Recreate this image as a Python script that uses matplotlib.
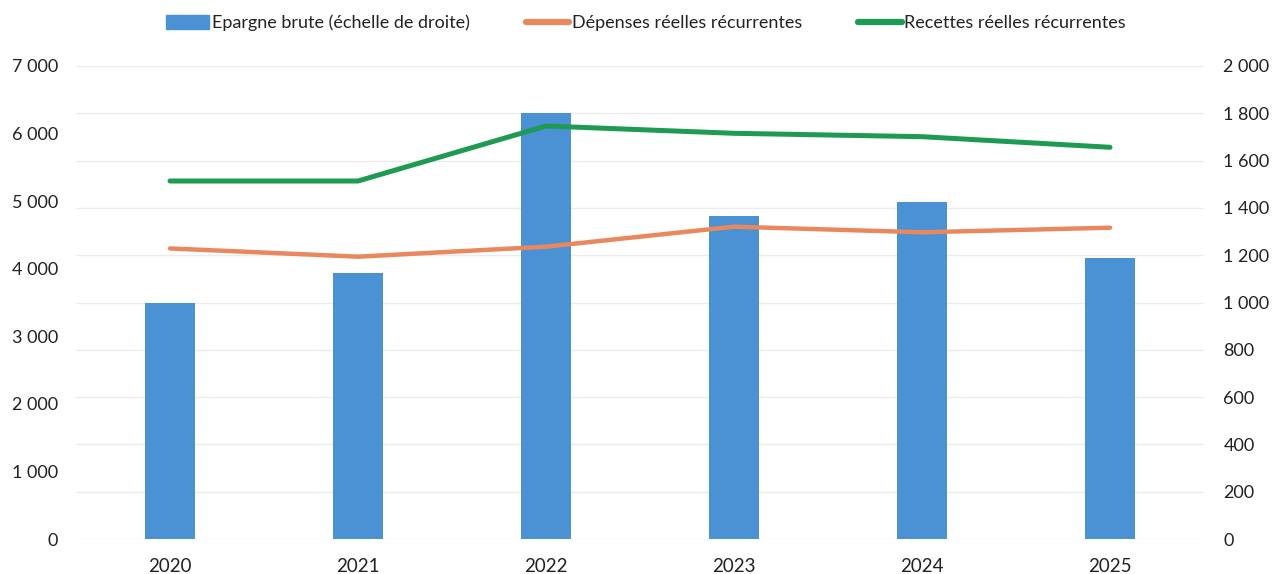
import numpy as np
import matplotlib
matplotlib.use('Agg')
import matplotlib.pyplot as plt
from matplotlib.patches import Patch
from matplotlib.lines import Line2D
from matplotlib.ticker import FuncFormatter

plt.rcParams['font.family'] = ['Lato', 'DejaVu Sans']

years = ["2020", "2021", "2022", "2023", "2024", "2025"]
epargne_brute = [998, 1124, 1803, 1366, 1424, 1189]
depenses = [4300, 4178, 4326, 4622, 4539, 4607]
recettes = [5298, 5298, 6112, 6004, 5954, 5797]

BLUE = "#4a92d4"
ORANGE = "#e8885c"
GREEN = "#1e9a52"
TXT = "#222222"


def fr_fmt(v, pos):
    return f"{int(v):,}".replace(",", " ")


fig = plt.figure(figsize=(12.75, 5.74), dpi=100)
ax = fig.add_axes([76 / 1275, 1 - 539 / 574, (1204 - 76) / 1275, (539 - 66) / 574])
x = np.arange(len(years))

# bars on right-hand scale
ax.bar(x, epargne_brute, width=0.265, color=BLUE, zorder=2)
ax.set_ylim(0, 2000)
ax.set_yticks(np.arange(0, 2001, 200))
ax.yaxis.set_major_formatter(FuncFormatter(fr_fmt))
ax.grid(axis='y', color="#ececec", linewidth=1, zorder=0)
ax.set_axisbelow(True)
ax.set_xlim(-0.5, len(years) - 0.5)
ax.set_xticks(x)
ax.set_xticklabels(years)
ax.tick_params(axis='x', length=0, pad=14, labelsize=13.5, labelcolor=TXT)
for s in ax.spines.values():
    s.set_visible(False)

# lines on left-hand scale
ax2 = ax.twinx()
ax2.plot(x, depenses, color=ORANGE, linewidth=3.2, solid_capstyle='round', zorder=3)
ax2.plot(x, recettes, color=GREEN, linewidth=3.6, solid_capstyle='round', zorder=3)
ax2.set_ylim(0, 7000)
ax2.set_yticks(np.arange(0, 7001, 1000))
ax2.yaxis.set_major_formatter(FuncFormatter(fr_fmt))
for s in ax2.spines.values():
    s.set_visible(False)

# twinx puts the parent's ticks on the left, so swap sides here
ax.yaxis.tick_right()
ax2.yaxis.tick_left()
ax.tick_params(axis='y', length=0, pad=14, labelsize=13, labelcolor=TXT)
ax2.tick_params(axis='y', length=0, pad=13, labelsize=13, labelcolor=TXT)

handles = [
    Patch(color=BLUE, label="Epargne brute (échelle de droite)"),
    Line2D([0], [0], color=ORANGE, linewidth=4.5, solid_capstyle='round', label="Dépenses réelles récurrentes"),
    Line2D([0], [0], color=GREEN, linewidth=4.5, solid_capstyle='round', label="Recettes réelles récurrentes"),
]
fig.legend(handles=handles, loc='center', bbox_to_anchor=(646 / 1275, 1 - 23 / 574), ncol=3,
           frameon=False, fontsize=13, handlelength=2.4, handleheight=0.8,
           handletextpad=0.15, columnspacing=3.1, labelcolor=TXT)

fig.savefig("out.png", dpi=100)
